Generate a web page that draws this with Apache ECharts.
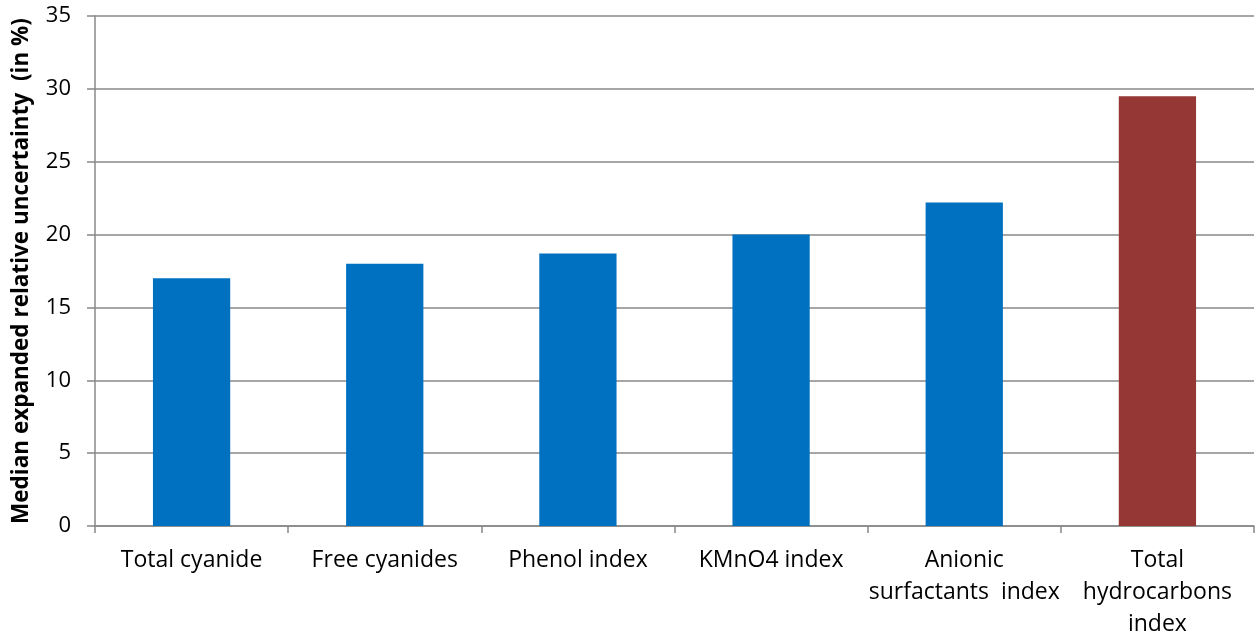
<!DOCTYPE html>
<html>
<head>
<meta charset="utf-8">
<style>
  html, body { margin: 0; padding: 0; background: #fff; }
  #chart { width: 1255px; height: 639px; }
</style>
<script src="https://cdn.jsdelivr.net/npm/echarts@6/dist/echarts.min.js"></script>
</head>
<body>
<div id="chart"></div>
<script>
// Parameters measured
const categories = [
  'Total cyanide',
  'Free cyanides',
  'Phenol index',
  'KMnO4 index',
  'Anionic\nsurfactants  index',
  'Total\nhydrocarbons\nindex'
];
// Median expanded relative uncertainty, in %
const uncertainty = [17.0, 18.0, 18.7, 20.0, 22.2, 29.5];
const barColors = ['#0070C0', '#0070C0', '#0070C0', '#0070C0', '#0070C0', '#953735'];
const yTicks = [0, 5, 10, 15, 20, 25, 30, 35];

const font = '"Open Sans", "Noto Sans", sans-serif';
const chart = echarts.init(document.getElementById('chart'));
chart.setOption({
  animation: false,
  grid: { left: 95, right: 1, top: 16, bottom: 113, containLabel: false, outerBoundsMode: 'none' },
  xAxis: {
    type: 'category',
    data: categories,
    axisLine: { lineStyle: { color: '#888888', width: 1.5 } },
    axisTick: { show: true, length: 7, lineStyle: { color: '#888888', width: 1.5 } },
    axisLabel: {
      color: '#000', fontFamily: font, fontSize: 23, margin: 18,
      lineHeight: 32, interval: 0
    }
  },
  yAxis: {
    type: 'value',
    min: yTicks[0],
    max: yTicks[yTicks.length - 1],
    interval: 5,
    name: 'Median expanded relative uncertainty  (in %)',
    nameLocation: 'middle',
    nameGap: 62,
    nameTextStyle: { color: '#000', fontFamily: font, fontSize: 22.5, fontWeight: 'bold' },
    axisLine: { show: true, lineStyle: { color: '#888888', width: 1.5 } },
    axisTick: { show: true, length: 8, lineStyle: { color: '#888888', width: 1.5 } },
    splitLine: { lineStyle: { color: '#888888', width: 1.5 } },
    axisLabel: { color: '#000', fontFamily: font, fontSize: 22, margin: 24 }
  },
  series: [{
    type: 'bar',
    barWidth: '40%',
    data: uncertainty.map((v, i) => ({ value: v, itemStyle: { color: barColors[i] } }))
  }]
});
</script>
</body>
</html>
